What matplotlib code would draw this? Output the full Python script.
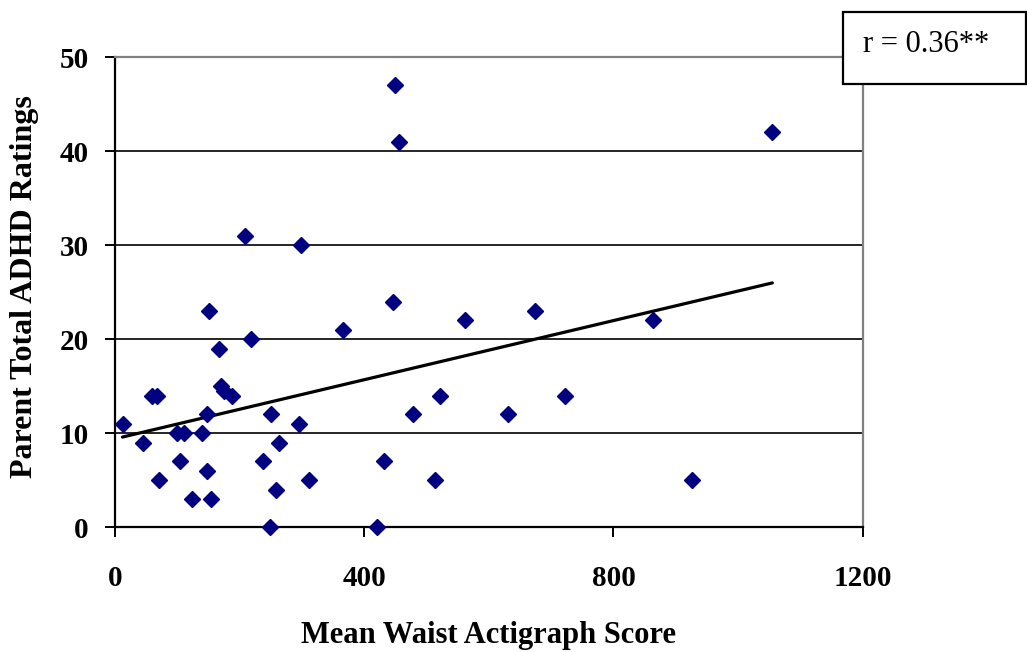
import matplotlib
matplotlib.use("Agg")
import matplotlib.pyplot as plt
from matplotlib.patches import Rectangle
import numpy as np

# Data
waist_score = [13, 45, 59, 68, 71, 99, 111, 105, 123, 139, 147, 147, 154, 151,
               167, 170, 175, 187, 209, 219, 238, 248, 250, 258, 264, 296, 299,
               312, 366, 421, 431, 446, 449, 456, 479, 514, 521, 562, 630, 674,
               722, 864, 926, 1054]
adhd_rating = [11, 9, 14, 14, 5, 10, 10, 7, 3, 10, 12, 6, 3, 23,
               19, 15, 14.5, 14, 31, 20, 7, 0, 12, 4, 9, 11, 30,
               5, 21, 0, 7, 24, 47, 41, 12, 5, 14, 22, 12, 23,
               14, 22, 5, 42]
trend_x = [12, 1055]
trend_y = [9.6, 26.0]
x_ticks = [0, 400, 800, 1200]
y_ticks = [0, 10, 20, 30, 40, 50]
r_label = "r = 0.36**"

W, H = 1027, 652
fig = plt.figure(figsize=(W / 100, H / 100), dpi=100)
ax_l, ax_r, ax_t, ax_b = 115, 862.7, 57.3, 527.3
ax = fig.add_axes([ax_l / W, (H - ax_b) / H, (ax_r - ax_l) / W, (ax_b - ax_t) / H])

serif = ["Liberation Serif", "DejaVu Serif"]

ax.set_xlim(0, 1200)
ax.set_ylim(0, 50)
ax.set_yticks(y_ticks)
ax.set_xticks(x_ticks)
ax.yaxis.grid(True, color="black", linewidth=1.2)
ax.set_axisbelow(True)

for s in ["left", "bottom"]:
    ax.spines[s].set_color("black")
    ax.spines[s].set_linewidth(1.6)
for s in ["top", "right"]:
    ax.spines[s].set_color("#808080")
    ax.spines[s].set_linewidth(1.6)

ax.tick_params(axis="both", direction="out", length=7, width=1.4, color="black")
ax.tick_params(axis="x", pad=20.5)
ax.tick_params(axis="y", pad=12)
ax.set_xticklabels([str(v) for v in x_ticks], fontfamily=serif, fontweight="bold", fontsize=21)
ax.set_yticklabels([str(v) for v in y_ticks], fontfamily=serif, fontweight="bold", fontsize=21)

ax.plot(trend_x, trend_y, color="black", linewidth=2.3, zorder=2, solid_capstyle="round")
ax.plot(waist_score, adhd_rating, linestyle="none", marker="D", markersize=8.5,
        color="#000080", markeredgecolor="#000080", zorder=3, clip_on=False)

ax.set_xlabel("Mean Waist Actigraph Score", fontfamily=serif, fontweight="bold",
              fontsize=22, va="center")
ax.set_ylabel("Parent Total ADHD Ratings", fontfamily=serif, fontweight="bold",
              fontsize=23, va="center")
pw, ph = ax_r - ax_l, ax_b - ax_t
ax.xaxis.set_label_coords(0.5, (ax_b - 636) / ph)
ax.yaxis.set_label_coords((25 - ax_l) / pw, (ax_b - 287) / ph)

# r annotation box
bx0, by0, bx1, by1 = 842.7, 12, 1025.5, 84
fig.patches.append(Rectangle((bx0 / W, 1 - by1 / H), (bx1 - bx0) / W, (by1 - by0) / H,
                             transform=fig.transFigure, facecolor="white",
                             edgecolor="black", linewidth=1.6, zorder=5))
fig.text(863 / W, 1 - 44 / H, r_label, fontfamily=serif, fontsize=22,
         ha="left", va="center", zorder=6)

fig.savefig("out.png", dpi=100, facecolor="white")
